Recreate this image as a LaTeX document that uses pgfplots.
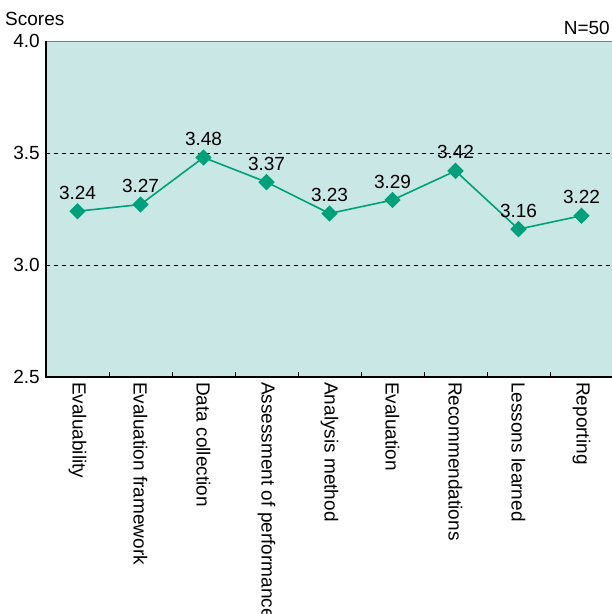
\documentclass[border=0pt]{standalone}
\usepackage{fontspec}
\setmainfont{Liberation Sans}
\usepackage{pgfplots}
\pgfplotsset{compat=1.18}
\definecolor{panel}{RGB}{201,231,229}
\definecolor{series}{RGB}{0,160,122}
\definecolor{frame}{RGB}{125,125,125}

\begin{document}
\fontsize{19}{22}\selectfont
\begin{tikzpicture}
\begin{axis}[
  name=ax,
  scale only axis,
  width=567pt, height=336pt,
  xmin=-0.5, xmax=8.5,
  ymin=2.5, ymax=4.0,
  clip=false,
  xtick={0,...,8},
  xticklabels={Evaluability, Evaluation framework, Data collection,
    Assessment of performance, Analysis method, Evaluation,
    Recommendations, Lessons learned, Reporting},
  minor xtick={0.5,1.5,...,7.5},
  ytick={2.5,3.0,3.5,4.0},
  y tick label style={anchor=east, inner sep=0pt, xshift=-6pt,
    /pgf/number format/fixed, /pgf/number format/fixed zerofill,
    /pgf/number format/precision=1},
  /pgf/number format/assume math mode=true,
  tick pos=left,
  tick align=inside,
  major tick length=0pt,
  minor tick length=5pt,
  tick style={black, line width=0.8pt},
  x tick label style={rotate=-90, anchor=west, inner sep=0pt, xshift=5pt},
  extra y ticks={3.0,3.5},
  extra y tick labels={},
  extra y tick style={grid=major, major tick length=0pt},
  grid style={black, line width=0.7pt, dash pattern=on 4pt off 4pt},
  axis background/.style={fill=panel},
  axis line style={frame, line width=0.8pt},
]
\draw[black, line width=2pt] (rel axis cs:0,1) -- (rel axis cs:0,0) -- (rel axis cs:1,0);
\addplot[series, line width=1.6pt,
  mark=square*, mark size=5pt,
  mark options={rotate=45, solid, fill=series},
  nodes near coords, point meta=explicit symbolic,
  every node near coord/.style={black, anchor=south, inner sep=2pt, yshift=9pt}]
  coordinates {
    (0,3.24) [3.24]
    (1,3.27) [3.27]
    (2,3.48) [3.48]
    (3,3.37) [3.37]
    (4,3.23) [3.23]
    (5,3.29) [3.29]
    (6,3.42) [3.42]
    (7,3.16) [3.16]
    (8,3.22) [3.22]
  };
\end{axis}
\node[anchor=base west, inner sep=0pt] at ([shift={(-41pt,15pt)}]ax.north west) {Scores};
\node[anchor=base east, inner sep=0pt] at ([shift={(564pt,6pt)}]ax.north west) {N=50};
\pgfresetboundingbox
\path[use as bounding box] ([shift={(-46pt,-237pt)}]ax.south west) rectangle ([shift={(565pt,41pt)}]ax.north west);
\end{tikzpicture}
\end{document}
